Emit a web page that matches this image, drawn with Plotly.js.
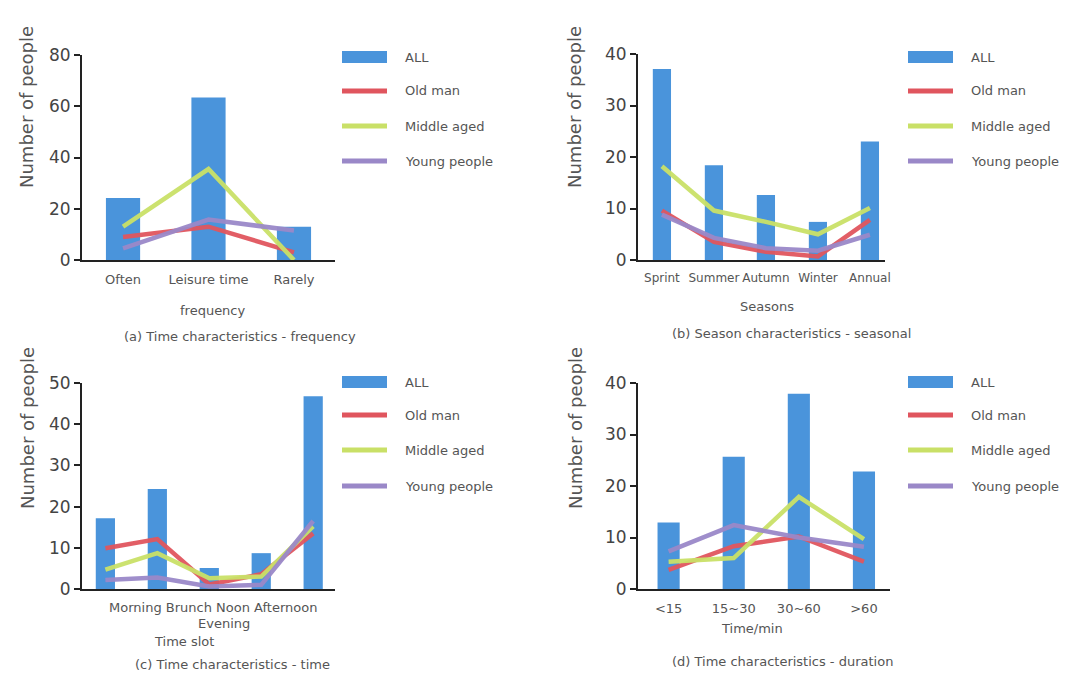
<!DOCTYPE html>
<html>
<head>
<meta charset="utf-8">
<script src="https://cdn.plot.ly/plotly-3.0.1.min.js"></script>
<style>html,body{margin:0;padding:0;background:#fff;}#chart{width:1092px;height:677px;}</style>
</head>
<body>
<div id="chart"></div>
<script>
// ---------- data ----------
const seriesNames = ["ALL", "Old man", "Middle aged", "Young people"];

// (a) frequency
const freqCats = ["Often", "Leisure time", "Rarely"];
const freqAll = [24.2, 63.4, 13];
const freqOld = [9, 13, 3];
const freqMid = [13, 35.5, 0];
const freqYoung = [4.5, 15.8, 11.5];

// (b) seasons
const seasonCats = ["Sprint", "Summer", "Autumn", "Winter", "Annual"];
const seasonAll = [37.1, 18.4, 12.6, 7.4, 23];
const seasonOld = [9.6, 3.5, 1.6, 0.7, 7.8];
const seasonMid = [18.2, 9.6, 7.4, 5, 10.1];
const seasonYoung = [8.8, 4.3, 2.3, 1.8, 4.9];

// (c) time slot
const slotCats = ["Morning", "Brunch", "Noon", "Afternoon", "Evening"];
const slotAll = [17.2, 24.3, 5.1, 8.7, 46.8];
const slotOld = [9.9, 12.1, 1.1, 3.6, 13.5];
const slotMid = [4.7, 8.7, 2.6, 3, 15.2];
const slotYoung = [2.2, 2.8, 0.6, 1, 16.5];

// (d) duration
const durCats = ["<15", "15~30", "30~60", ">60"];
const durAll = [12.9, 25.7, 37.9, 22.8];
const durOld = [3.7, 8.3, 10.2, 5.3];
const durMid = [5.3, 6, 17.9, 9.7];
const durYoung = [7.3, 12.4, 10, 8.2];

// ---------- styling ----------
const C_BLUE = "#4a94db", C_RED = "#e0555e", C_GREEN = "#c9e067", C_PURPLE = "#9a88c8";
const colors = [C_BLUE, C_RED, C_GREEN, C_PURPLE];
const FONT = "DejaVu Sans, sans-serif";
const TXT = "#555";
const W = 1092, H = 677;
const px = x => x / W;
const py = y => 1 - y / H;

const panels = [
  {cats: freqCats, all: freqAll, old: freqOld, mid: freqMid, young: freqYoung, ax: "", range: [-0.48, 2.48], ymax: 80, dtick: 20, bw: 0.4,
   xd: [82, 335], yd: [260, 55], tf: 13},
  {cats: seasonCats, all: seasonAll, old: seasonOld, mid: seasonMid, young: seasonYoung, ax: "2", range: [-0.46, 4.29], ymax: 40, dtick: 10, bw: 0.35,
   xd: [638, 885], yd: [260, 54], tf: 12},
  {cats: slotCats, all: slotAll, old: slotOld, mid: slotMid, young: slotYoung, ax: "3", range: [-0.45, 4.42], ymax: 50, dtick: 10, bw: 0.37,
   xd: [82, 335], yd: [589, 383], tf: 13, hideTicks: true},
  {cats: durCats, all: durAll, old: durOld, mid: durMid, young: durYoung, ax: "4", range: [-0.47, 3.4], ymax: 40, dtick: 10, bw: 0.34,
   xd: [638, 890], yd: [589, 383], tf: 13}
];

const traces = [];
const layout = {
  width: W, height: H,
  margin: {l: 0, r: 0, t: 0, b: 0},
  paper_bgcolor: "#fff", plot_bgcolor: "#fff",
  showlegend: false,
  font: {family: FONT, color: TXT},
  annotations: [], shapes: []
};

panels.forEach(p => {
  const xa = "x" + p.ax, ya = "y" + p.ax;
  traces.push({type: "bar", x: p.cats, y: p.all, name: seriesNames[0], xaxis: xa, yaxis: ya,
    width: p.bw, marker: {color: C_BLUE}, hoverinfo: "x+y+name"});
  [[p.old, 1], [p.mid, 2], [p.young, 3]].forEach(([vals, i]) => {
    traces.push({type: "scatter", mode: "lines", x: p.cats, y: vals, name: seriesNames[i],
      xaxis: xa, yaxis: ya, line: {color: colors[i], width: 4.5}, opacity: 0.95});
  });
  layout["xaxis" + p.ax] = {
    domain: [px(p.xd[0]), px(p.xd[1])], anchor: ya, type: "category", range: p.range,
    showline: true, linecolor: "#222", linewidth: 2, ticks: "", showgrid: false, zeroline: false,
    tickangle: 0, ticklabelstandoff: 6,
    showticklabels: !p.hideTicks, tickfont: {family: FONT, size: p.tf, color: TXT}, fixedrange: true
  };
  layout["yaxis" + p.ax] = {
    domain: [py(p.yd[0]), py(p.yd[1])], anchor: xa, range: [0, p.ymax], dtick: p.dtick,
    showline: true, linecolor: "#222", linewidth: 2, ticks: "outside", ticklen: 6, tickwidth: 2, tickcolor: "#222",
    showgrid: false, zeroline: false, tickfont: {family: FONT, size: 17, color: "#444"}, fixedrange: true
  };
});

function ann(text, x, y, opts) {
  layout.annotations.push(Object.assign({text: text, x: px(x), y: py(y), xref: "paper", yref: "paper",
    showarrow: false, xanchor: "center", yanchor: "middle",
    font: {family: FONT, size: 13, color: TXT}}, opts || {}));
}

// y-axis titles
[[27, 107], [575, 107], [27, 428], [575, 428]].forEach(([x, y]) =>
  ann("Number of people", x, y, {textangle: -90, font: {family: FONT, size: 18, color: TXT}}));

// x-axis titles and captions
ann("frequency", 213, 310);
ann("(a) Time characteristics - frequency", 240, 336);
ann("Seasons", 767, 306);
ann("(b) Season characteristics - seasonal", 791, 333);
ann(slotCats.slice(0, 4).join(" "), 213, 607);
ann(slotCats[4], 224, 623);
ann("Time slot", 184, 641);
ann("(c) Time characteristics - time", 232, 664);
ann("Time/min", 752, 628);
ann("(d) Time characteristics - duration", 782, 661);

// custom legends
const legendPos = [[342, [57, 91, 126, 161]], [908, [57, 91, 126, 161]], [342, [382, 415, 450, 486]], [908, [382, 415, 450, 486]]];
legendPos.forEach(([x0, rows]) => {
  rows.forEach((y, i) => {
    const h = i === 0 ? 6 : 2.5;
    layout.shapes.push({type: "rect", xref: "paper", yref: "paper",
      x0: px(x0), x1: px(x0 + 45), y0: py(y + h), y1: py(y - h),
      fillcolor: colors[i], line: {width: 0}});
    ann(seriesNames[i], x0 + 61, y, {xanchor: "left", font: {family: FONT, size: 13, color: TXT}});
  });
});

Plotly.newPlot("chart", traces, layout, {displayModeBar: false, staticPlot: true});
</script>
</body>
</html>
